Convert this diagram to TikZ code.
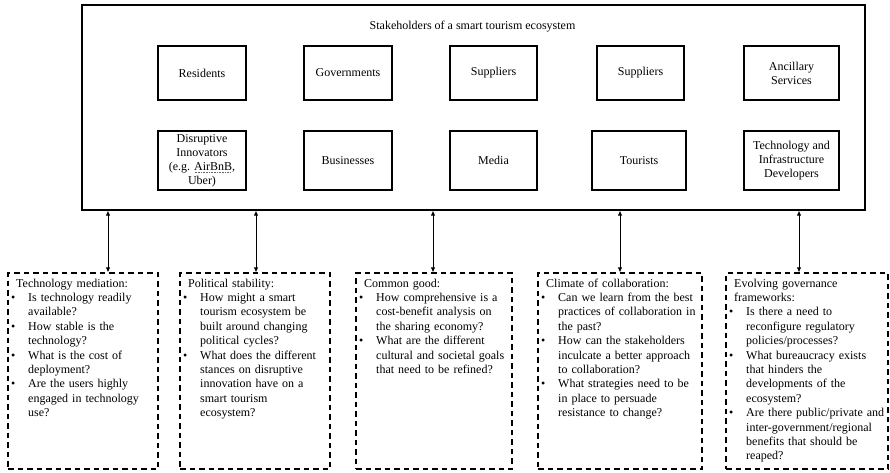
\documentclass[tikz,border=0pt]{standalone}
\usepackage{fontspec}
\setmainfont{Liberation Serif}
\usetikzlibrary{arrows.meta}
\newcommand{\qitem}[1]{\par{\leftskip=12pt\leavevmode\llap{\makebox[17pt][l]{\textbullet}}#1\par}}
\newcommand{\dotul}[1]{\setbox0=\hbox{#1}\rlap{\raisebox{-2.2pt}{\color{black!60}\hbox to \wd0{\leaders\hbox to 1.6pt{\hss\vrule width 0.8pt height 0.5pt depth 0pt\hss}\hfil}}}\box0}
\tikzset{
  outerbox/.style={draw, line width=1.3pt, inner sep=0},
  sbox/.style={draw, line width=1.2pt, align=center, inner sep=0,
    font=\fontsize{12}{14}\selectfont},
  qbox/.style={draw, line width=1.1pt, dash pattern=on 5.5pt off 4pt, inner sep=0},
  qtext/.style={anchor=north west, inner sep=0, text width=200pt, align=left,
    font=\fontsize{12}{14.4}\selectfont},
  link/.style={{Latex[length=5pt,width=4.5pt]}-{Latex[length=5pt,width=4.5pt]}, line width=0.9pt},
  titletext/.style={inner sep=0, font=\fontsize{12}{14}\selectfont}
}
\begin{document}
\begin{tikzpicture}[x=1pt,y=-1pt]
\useasboundingbox (0,0) rectangle (890,473);
% outer box
\node[outerbox, minimum width=783pt, minimum height=205pt] (outer) at (473.5,107.5) {};
\node[titletext] (title) at (472.5,27) {Stakeholders of a smart tourism ecosystem};
% stakeholders row 1
\node[sbox, minimum width=88pt, minimum height=54pt] (res) at (202,73) {Residents};
\node[sbox, minimum width=88pt, minimum height=54pt] (gov) at (348,73) {Governments};
\node[sbox, minimum width=87pt, minimum height=54pt] (sup1) at (493.5,73) {Suppliers};
\node[sbox, minimum width=87pt, minimum height=54pt] (sup2) at (640.5,73) {Suppliers};
\node[sbox, minimum width=95pt, minimum height=54pt] (anc) at (791.5,73) {Ancillary\\Services};
% stakeholders row 2
\node[sbox, minimum width=88pt, minimum height=59pt] (dis) at (202,160.5) {Disruptive\\Innovators\\(e.g. \dotul{AirBnB},\\Uber)};
\node[sbox, minimum width=88pt, minimum height=59pt] (bus) at (348,160.5) {Businesses};
\node[sbox, minimum width=87pt, minimum height=59pt] (med) at (493.5,160.5) {Media};
\node[sbox, minimum width=94pt, minimum height=59pt] (tou) at (639,160.5) {Tourists};
\node[sbox, minimum width=95pt, minimum height=59pt] (tec) at (791.5,160.5) {Technology and\\Infrastructure\\Developers};
% question boxes
\node[qbox, minimum width=150pt, minimum height=196pt] (b1) at (83,371) {};
\node[qbox, minimum width=150pt, minimum height=196pt] (b2) at (255,371) {};
\node[qbox, minimum width=156pt, minimum height=196pt] (b3) at (434,371) {};
\node[qbox, minimum width=164pt, minimum height=196pt] (b4) at (620,371) {};
\node[qbox, minimum width=162pt, minimum height=196pt] (b5) at (807,371) {};
% texts
\node[qtext] (t1) at (16,278.5) {Technology mediation:
\qitem{Is technology readily\\available?}
\qitem{How stable is the\\technology?}
\qitem{What is the cost of\\deployment?}
\qitem{Are the users highly\\engaged in technology\\use?}};
\node[qtext] (t2) at (188,278.5) {Political stability:
\qitem{How might a smart\\tourism ecosystem be\\built around changing\\political cycles?}
\qitem{What does the different\\stances on disruptive\\innovation have on a\\smart tourism\\ecosystem?}};
\node[qtext] (t3) at (364,278.5) {Common good:
\qitem{How comprehensive is a\\cost-benefit analysis on\\the sharing economy?}
\qitem{What are the different\\cultural and societal goals\\that need to be refined?}};
\node[qtext] (t4) at (546,278.5) {Climate of collaboration:
\qitem{Can we learn from the best\\practices of collaboration in\\the past?}
\qitem{How can the stakeholders\\inculcate a better approach\\to collaboration?}
\qitem{What strategies need to be\\in place to persuade\\resistance to change?}};
\node[qtext] (t5) at (734,278.5) {Evolving governance\\frameworks:
\qitem{Is there a need to\\reconfigure regulatory\\policies/processes?}
\qitem{What bureaucracy exists\\that hinders the\\developments of the\\ecosystem?}
\qitem{Are there public/private and\\inter-government/regional\\benefits that should be\\reaped?}};
% connectors
\coordinate (x1) at (108,0);
\coordinate (x2) at (256,0);
\coordinate (x3) at (433,0);
\coordinate (x4) at (620,0);
\coordinate (x5) at (799,0);
\draw[link] (outer.south -| x1) -- (b1.north -| x1);
\draw[link] (outer.south -| x2) -- (b2.north -| x2);
\draw[link] (outer.south -| x3) -- (b3.north -| x3);
\draw[link] (outer.south -| x4) -- (b4.north -| x4);
\draw[link] (outer.south -| x5) -- (b5.north -| x5);
\end{tikzpicture}
\end{document}
